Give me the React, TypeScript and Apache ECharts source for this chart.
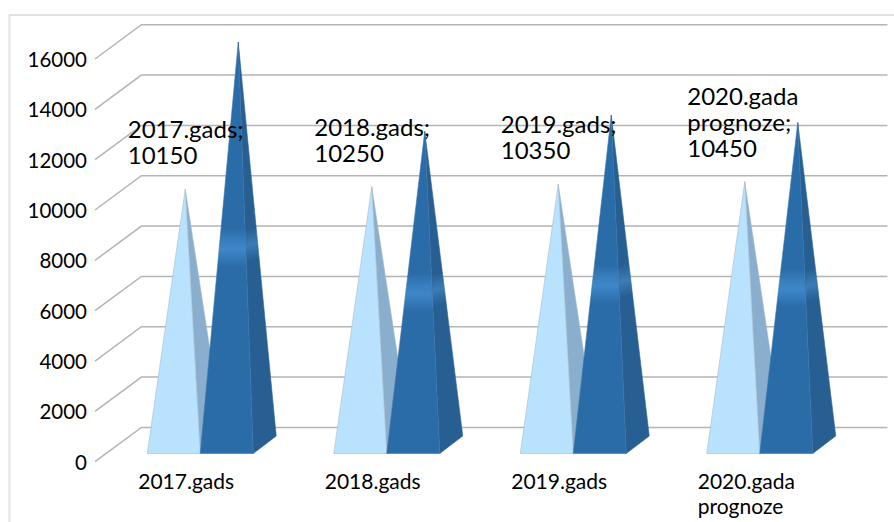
import React, { useEffect, useRef } from "react";
import * as echarts from "echarts";

const categories = ["2017.gads", "2018.gads", "2019.gads", "2020.gada\nprognoze"];
const lightValues = [10150, 10250, 10350, 10450];
const darkValues = [16000, 12450, 13100, 12800];
const tickValues = [0, 2000, 4000, 6000, 8000, 10000, 12000, 14000, 16000];
const FONT = "Lato, 'Open Sans', sans-serif";

const DEPTH_X = 46.4;
const DEPTH_Y = 34.3;
const FRONT_LIFT = 8.2;
const BACK_LIFT = 25.7;
const CENTER_LIFT = 17;
const FACE = 53;
const SIDE = 23;

const pyramid = (api: any, dark: boolean) => {
  const cat = api.value(0);
  const value = api.value(1);
  const [cx, topRaw] = api.coord([cat, value]);
  const y0 = api.coord([cat, 0])[1];
  const D = cx + 12;
  const left = dark ? D : D - FACE;
  const right = left + FACE;
  const backRight = right + SIDE;
  const apexX = (left + backRight) / 2;
  const apexY = topRaw - CENTER_LIFT;
  const frontY = y0 - FRONT_LIFT;
  const backY = y0 - BACK_LIFT;
  const bandY = (apexY + frontY) / 2;
  const frontFill = dark
    ? new echarts.graphic.LinearGradient(
        0, bandY - 19, 0, bandY + 19,
        [
          { offset: 0, color: "#2a6ca8" },
          { offset: 0.35, color: "#3a80c0" },
          { offset: 0.55, color: "#3d86c8" },
          { offset: 1, color: "#2a6ca8" },
        ],
        true
      )
    : "#b8e2fd";
  const sideFill = dark
    ? new echarts.graphic.LinearGradient(
        right, bandY - 20, right + 8, bandY + 10,
        [
          { offset: 0, color: "#275f92" },
          { offset: 0.5, color: "#3a7db6" },
          { offset: 1, color: "#275f92" },
        ],
        true
      )
    : "#8aaecd";
  return {
    type: "group",
    children: [
      {
        type: "polygon",
        shape: { points: [[apexX, apexY], [right, frontY], [backRight, backY]] },
        style: { fill: sideFill, stroke: dark ? "#2b6496" : "#a4b8ca", lineWidth: 0.6 },
      },
      {
        type: "polygon",
        shape: { points: [[apexX, apexY], [left, frontY], [right, frontY]] },
        style: { fill: frontFill, stroke: dark ? "#3f77a8" : "#a9bccd", lineWidth: 0.6 },
      },
    ],
  };
};

const option: any = {
  animation: false,
  backgroundColor: "#ffffff",
  graphic: [
    {
      type: "polyline",
      silent: true,
      shape: { points: [[9.5, 522], [9.5, 15], [894, 15]] },
      style: { fill: "none", stroke: "#e2e2e2", lineWidth: 2 },
    },
  ],
  grid: { left: 95, top: 59, width: 746, height: 402.7, containLabel: false },
  xAxis: {
    type: "category",
    data: categories,
    axisLine: { show: false },
    axisTick: { show: false },
    splitLine: { show: false },
    axisLabel: {
      interval: 0,
      margin: 6,
      formatter: (v: string) =>
        v.split("\n").map((l) => `{a|${l}}`).join("\n"),
      rich: {
        a: {
          width: 100,
          align: "left",
          fontFamily: FONT,
          fontSize: 21,
          lineHeight: 25,
          color: "#000000",
        },
      },
    },
  },
  yAxis: {
    type: "value",
    min: 0,
    max: 16000,
    interval: 2000,
    axisLine: { show: false },
    axisTick: { show: false },
    splitLine: { show: false },
    axisLabel: {
      margin: 8,
      fontFamily: FONT,
      fontSize: 20.5,
      color: "#000000",
      formatter: (v: number) => String(v),
    },
  },
  series: [
    {
      type: "custom",
      coordinateSystem: "cartesian2d",
      silent: true,
      z: 1,
      encode: { x: 0, y: 1 },
      data: tickValues.map((v) => [0, v]),
      renderItem: (_p: any, api: any) => {
        const y = api.coord([0, api.value(1)])[1];
        const size = api.size([1, 0])[0];
        const xl = api.coord([0, 0])[0] - size / 2;
        const xr = xl + size * categories.length;
        return {
          type: "polyline",
          shape: {
            points: [
              [xl, y],
              [xl + DEPTH_X, y - DEPTH_Y],
              [xr + DEPTH_X, y - DEPTH_Y],
            ],
          },
          style: { fill: "none", stroke: "#b4b4b4", lineWidth: 1.5 },
        };
      },
    },
    {
      type: "custom",
      coordinateSystem: "cartesian2d",
      silent: true,
      z: 2,
      encode: { x: 0, y: 1 },
      data: lightValues.map((v, i) => [i, v]),
      renderItem: (_p: any, api: any) => pyramid(api, false),
    },
    {
      type: "custom",
      coordinateSystem: "cartesian2d",
      silent: true,
      z: 3,
      encode: { x: 0, y: 1 },
      data: darkValues.map((v, i) => [i, v]),
      renderItem: (_p: any, api: any) => pyramid(api, true),
    },
    {
      type: "custom",
      coordinateSystem: "cartesian2d",
      silent: true,
      z: 4,
      encode: { x: 0, y: 1 },
      data: lightValues.map((v, i) => [i, v]),
      renderItem: (p: any, api: any) => {
        const [cx, y] = api.coord([api.value(0), api.value(1)]);
        const name = categories[p.dataIndex];
        return {
          type: "text",
          x: cx - 60.5,
          y: y - CENTER_LIFT - 21.5,
          style: {
            text: `${name};\n${api.value(1)}`,
            fontFamily: FONT,
            fontSize: 24,
            lineHeight: 26,
            fill: "#000000",
            align: "left",
            verticalAlign: "bottom",
          },
        };
      },
    },
  ],
};

export default function App() {
  const ref = useRef<HTMLDivElement>(null);
  useEffect(() => {
    document.body.style.margin = "0";
    const chart = echarts.init(ref.current!, null, { renderer: "svg" });
    chart.setOption(option);
    return () => chart.dispose();
  }, []);
  return <div ref={ref} style={{ width: 894, height: 522 }} />;
}
